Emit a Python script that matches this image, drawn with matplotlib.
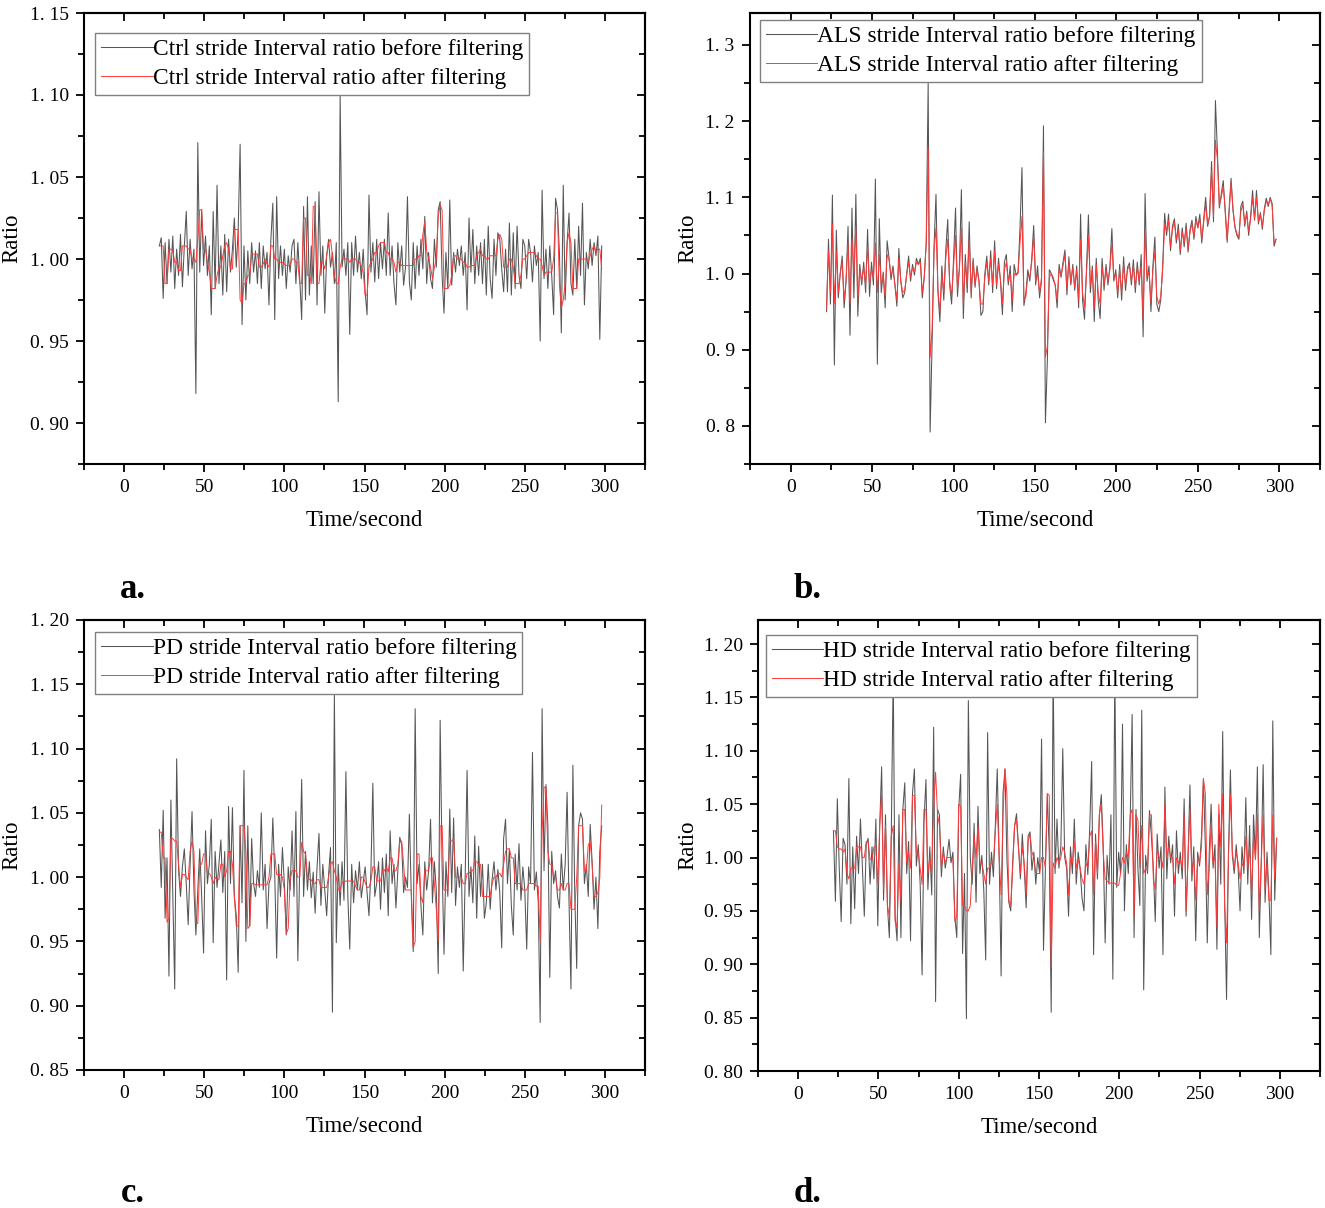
import matplotlib
matplotlib.use('Agg')
import matplotlib.pyplot as plt
from matplotlib.ticker import MultipleLocator, FuncFormatter
import numpy as np

plt.rcParams['font.family'] = ['Liberation Serif', 'DejaVu Serif']

# time span of the stride records (seconds)
T_START = 22.0
T_END = 298.0

# ---- a. Ctrl ----
ctrl_raw = [
    1.008, 1.013, 0.976, 1.010, 0.985, 1.012, 0.992, 1.014, 0.982, 1.006,
    0.990, 1.015, 0.983, 1.008, 1.029, 0.990, 1.012, 0.994, 1.006, 0.918,
    1.071, 0.992, 1.030, 0.996, 1.014, 0.990, 1.008, 0.966, 1.029, 0.982,
    1.045, 0.985, 1.008, 0.978, 1.015, 0.980, 1.012, 0.992, 1.006, 1.025,
    0.995, 1.018, 1.070, 0.960, 1.008, 0.975, 1.005, 0.985, 1.010, 0.992,
    1.005, 0.985, 1.010, 0.982, 1.008, 0.994, 1.004, 0.972, 1.012, 1.034,
    0.963, 1.038, 0.988, 1.008, 0.990, 1.006, 0.982, 1.002, 0.992, 1.008,
    1.012, 0.985, 1.010, 0.988, 0.963, 1.032, 0.975, 1.038, 0.978, 1.008,
    0.985, 1.035, 0.972, 1.041, 0.990, 1.008, 0.967, 1.002, 1.012, 0.995,
    1.004, 0.985, 1.010, 0.913, 1.100, 0.995, 1.006, 0.990, 1.010, 0.954,
    1.010, 0.990, 1.014, 0.992, 1.004, 0.988, 1.006, 0.980, 0.966, 1.039,
    0.992, 1.010, 0.986, 1.012, 0.988, 1.010, 0.994, 1.012, 0.990, 1.028,
    0.990, 1.008, 0.985, 0.972, 1.010, 0.992, 1.008, 0.984, 0.995, 1.038,
    0.986, 0.975, 1.010, 0.982, 1.008, 0.990, 1.012, 0.994, 1.026, 0.985,
    1.004, 0.988, 0.982, 1.012, 0.995, 1.030, 1.035, 0.990, 0.967, 1.004,
    0.982, 1.036, 0.984, 1.004, 0.992, 1.006, 0.996, 1.008, 0.990, 1.004,
    0.969, 1.025, 0.992, 1.018, 0.985, 1.008, 0.990, 1.010, 0.985, 1.012,
    0.978, 1.020, 0.988, 0.976, 1.012, 0.990, 1.016, 1.012, 0.994, 0.980,
    1.006, 0.980, 1.022, 0.978, 1.016, 0.982, 1.020, 0.990, 0.982, 1.012,
    1.008, 0.988, 1.012, 1.004, 0.986, 1.008, 0.996, 1.004, 0.950, 1.042,
    0.988, 1.006, 0.982, 1.008, 0.990, 0.966, 1.037, 1.030, 1.004, 0.955,
    1.045, 0.975, 1.010, 1.028, 0.985, 0.978, 1.012, 0.982, 1.020, 0.990,
    1.034, 0.972, 1.004, 0.994, 1.012, 0.996, 1.010, 1.002, 1.014, 0.951,
    1.008,
]
ctrl_flt = [
    1.008, 1.008, 1.008, 0.985, 0.985, 1.006, 1.006, 1.005, 0.998, 0.998,
    0.993, 0.993, 1.008, 1.008, 1.008, 1.006, 1.006, 1.000, 1.000, 0.998,
    1.012, 1.030, 1.030, 1.006, 1.006, 0.998, 0.992, 0.982, 0.982, 0.982,
    0.990, 0.995, 0.995, 1.002, 1.008, 1.010, 1.006, 0.994, 0.994, 1.018,
    1.018, 1.018, 0.975, 0.973, 0.985, 0.985, 0.990, 0.990, 1.003, 1.003,
    1.003, 1.003, 0.995, 0.995, 0.997, 1.000, 0.997, 0.995, 1.008, 1.008,
    1.000, 1.000, 0.998, 0.998, 0.998, 0.997, 0.996, 0.996, 0.996, 1.000,
    1.000, 0.998, 0.998, 0.985, 0.985, 1.025, 1.025, 0.990, 0.990, 0.985,
    1.032, 1.032, 0.985, 0.985, 0.998, 0.998, 0.994, 1.002, 1.010, 1.012,
    1.002, 0.990, 0.985, 0.985, 0.995, 1.000, 1.000, 1.000, 1.000, 0.998,
    1.000, 1.000, 1.000, 0.998, 0.998, 0.996, 0.992, 0.978, 0.978, 0.995,
    0.998, 1.000, 1.004, 1.004, 1.008, 1.010, 1.010, 1.010, 1.004, 1.004,
    1.000, 1.000, 0.998, 0.992, 0.998, 0.998, 0.996, 0.996, 0.996, 0.996,
    0.996, 0.996, 0.996, 1.000, 1.000, 1.002, 1.002, 1.015, 1.023, 1.005,
    1.000, 0.995, 0.988, 0.995, 1.000, 1.026, 1.033, 1.030, 0.982, 0.982,
    0.982, 0.984, 0.990, 1.002, 1.002, 1.000, 1.000, 1.000, 0.998, 0.998,
    0.995, 0.995, 0.996, 0.996, 0.996, 1.002, 1.004, 1.006, 1.002, 1.002,
    1.000, 1.000, 1.002, 1.002, 1.002, 1.002, 1.012, 1.015, 1.012, 0.995,
    0.995, 0.995, 1.000, 1.000, 0.995, 0.985, 0.985, 0.985, 0.990, 1.000,
    1.000, 1.002, 1.004, 1.004, 1.004, 1.004, 1.002, 1.000, 1.000, 0.996,
    0.990, 0.992, 0.992, 0.992, 0.992, 1.000, 1.028, 1.028, 0.985, 0.970,
    0.975, 0.985, 1.010, 1.016, 1.010, 0.982, 0.982, 0.982, 1.000, 1.000,
    1.000, 1.000, 1.000, 0.998, 1.002, 1.006, 1.008, 1.004, 1.006, 1.006,
    0.994,
]

# ---- b. ALS ----
als_raw = [
    0.950, 1.045, 0.960, 1.103, 0.880, 1.057, 0.968, 1.000, 1.023, 0.955,
    0.990, 1.062, 0.919, 1.086, 0.968, 1.104, 0.944, 1.012, 0.985, 1.015,
    0.975, 1.058, 0.970, 1.015, 0.985, 1.124, 0.881, 1.072, 0.975, 1.002,
    0.955, 1.043, 1.020, 0.992, 1.010, 0.985, 0.957, 1.033, 0.990, 0.968,
    0.975, 1.000, 1.023, 0.990, 1.012, 0.998, 1.020, 1.012, 1.020, 0.968,
    0.995, 1.040, 1.250, 0.792, 0.907, 1.035, 1.104, 0.975, 0.937, 1.010,
    0.965, 1.030, 1.071, 0.985, 0.960, 1.020, 1.086, 0.970, 1.010, 1.110,
    0.941, 1.025, 0.975, 1.068, 0.968, 1.020, 0.982, 1.010, 0.990, 0.945,
    0.950, 1.000, 1.023, 0.985, 1.030, 0.975, 1.043, 0.980, 1.020, 0.990,
    0.946, 1.015, 1.025, 0.985, 1.010, 0.950, 1.012, 0.998, 1.002, 1.060,
    1.139, 0.958, 0.975, 1.005, 0.990, 1.020, 1.063, 0.985, 1.010, 0.968,
    0.990, 1.194, 0.804, 0.887, 1.005, 1.000, 0.992, 0.985, 0.955, 1.012,
    0.995, 1.015, 1.031, 0.972, 1.022, 0.985, 1.012, 0.978, 1.010, 0.955,
    1.078, 0.965, 0.940, 1.005, 1.077, 0.975, 1.010, 0.937, 1.020, 0.965,
    0.941, 1.020, 0.978, 1.012, 0.985, 1.010, 1.059, 0.990, 1.005, 0.968,
    1.012, 0.965, 1.022, 0.978, 1.008, 1.014, 0.985, 1.018, 0.975, 1.015,
    0.985, 1.025, 0.917, 1.105, 0.990, 1.010, 0.950, 1.010, 1.048, 0.960,
    0.950, 0.965, 1.010, 1.079, 1.050, 1.078, 1.030, 1.062, 1.072, 1.040,
    1.065, 1.025, 1.060, 1.035, 1.066, 1.028, 1.058, 1.070, 1.045, 1.075,
    1.060, 1.078, 1.040, 1.072, 1.100, 1.062, 1.075, 1.147, 1.068, 1.227,
    1.160, 1.086, 1.105, 1.122, 1.080, 1.041, 1.085, 1.125, 1.082, 1.060,
    1.050, 1.045, 1.088, 1.095, 1.062, 1.082, 1.050, 1.075, 1.109, 1.070,
    1.109, 1.065, 1.080, 1.058, 1.085, 1.099, 1.088, 1.100, 1.092, 1.036,
    1.045,
]
als_flt = [
    0.955, 1.030, 0.975, 1.065, 0.960, 1.030, 0.975, 1.000, 1.015, 0.965,
    0.992, 1.040, 0.960, 1.045, 1.000, 1.060, 0.965, 1.005, 0.990, 1.008,
    0.985, 1.035, 0.985, 1.005, 0.995, 1.040, 0.975, 1.025, 0.985, 0.998,
    0.970, 1.025, 1.018, 0.998, 1.005, 0.985, 0.965, 1.020, 0.990, 0.975,
    0.978, 0.998, 1.015, 0.995, 1.008, 1.002, 1.015, 1.012, 1.015, 0.975,
    0.995, 1.040, 1.165, 0.890, 0.925, 1.030, 1.060, 0.980, 0.950, 1.000,
    0.975, 1.020, 1.045, 0.990, 0.970, 1.010, 1.050, 0.980, 1.005, 1.060,
    0.960, 1.015, 0.985, 1.045, 0.975, 1.015, 0.985, 1.005, 0.990, 0.960,
    0.960, 0.995, 1.015, 0.990, 1.020, 0.985, 1.030, 0.985, 1.012, 0.992,
    0.960, 1.005, 1.015, 0.990, 1.000, 0.965, 1.000, 0.998, 1.000, 1.040,
    1.075, 0.965, 0.970, 0.998, 0.995, 1.015, 1.050, 0.990, 1.000, 0.975,
    0.995, 1.160, 0.890, 0.905, 0.995, 1.000, 0.995, 0.985, 0.965, 1.005,
    0.998, 1.010, 1.025, 0.980, 1.015, 0.988, 1.008, 0.982, 1.005, 0.965,
    1.045, 0.975, 0.955, 1.000, 1.050, 0.985, 1.005, 0.955, 1.012, 0.975,
    0.960, 1.010, 0.985, 1.005, 0.990, 1.005, 1.040, 0.992, 1.000, 0.975,
    1.005, 0.975, 1.012, 0.985, 1.005, 1.010, 0.990, 1.010, 0.982, 1.008,
    0.990, 1.010, 0.940, 1.055, 0.995, 1.002, 0.962, 1.005, 1.030, 0.970,
    0.960, 0.970, 1.005, 1.065, 1.055, 1.070, 1.035, 1.058, 1.068, 1.045,
    1.058, 1.030, 1.055, 1.040, 1.060, 1.032, 1.055, 1.065, 1.048, 1.070,
    1.060, 1.072, 1.045, 1.068, 1.090, 1.065, 1.075, 1.135, 1.075, 1.175,
    1.150, 1.090, 1.100, 1.115, 1.085, 1.045, 1.080, 1.120, 1.085, 1.062,
    1.052, 1.048, 1.082, 1.090, 1.065, 1.078, 1.055, 1.072, 1.100, 1.072,
    1.100, 1.068, 1.078, 1.062, 1.082, 1.095, 1.090, 1.098, 1.090, 1.040,
    1.045,
]

# ---- c. PD ----
pd_raw = [
    1.037, 0.992, 1.052, 0.968, 1.015, 0.923, 1.060, 0.985, 0.913, 1.092,
    1.005, 0.985, 1.008, 1.022, 0.995, 0.963, 1.010, 1.051, 0.990, 0.955,
    0.990, 1.022, 0.985, 0.941, 1.036, 0.995, 1.010, 1.045, 0.949, 1.020,
    0.992, 1.010, 1.029, 0.988, 1.020, 0.920, 1.055, 0.995, 1.054, 0.985,
    0.970, 0.926, 1.040, 0.980, 1.083, 0.950, 1.040, 0.962, 1.030, 0.995,
    0.985, 1.005, 0.992, 1.050, 0.990, 1.010, 0.960, 0.995, 1.000, 1.046,
    1.002, 0.937, 1.010, 0.985, 1.023, 0.995, 0.955, 1.008, 0.990, 1.036,
    0.985, 1.051, 0.935, 1.008, 1.076, 0.985, 1.020, 0.990, 1.012, 0.984,
    1.004, 0.972, 1.008, 1.034, 0.978, 1.010, 0.990, 0.970, 1.002, 1.023,
    0.895, 1.143, 0.949, 1.010, 0.978, 1.012, 0.982, 1.082, 0.985, 0.944,
    1.010, 0.980, 1.005, 0.990, 1.012, 0.984, 0.996, 1.008, 0.988, 0.970,
    1.005, 1.073, 0.985, 0.995, 1.012, 0.975, 1.015, 0.988, 1.018, 0.970,
    1.036, 0.995, 1.010, 0.976, 1.005, 1.031, 1.025, 0.988, 1.000, 0.992,
    1.049, 0.985, 0.942, 1.131, 0.995, 1.010, 0.978, 0.955, 1.012, 0.990,
    1.005, 1.045, 0.980, 1.012, 0.990, 0.925, 1.122, 1.010, 0.940, 1.012,
    0.985, 1.053, 0.988, 1.046, 0.978, 1.008, 0.992, 1.010, 0.927, 1.000,
    1.083, 0.985, 1.008, 0.980, 1.032, 0.968, 1.024, 0.985, 1.010, 0.968,
    0.980, 1.010, 0.975, 0.998, 1.012, 0.990, 1.006, 0.988, 0.945, 1.030,
    1.045, 0.995, 1.022, 0.978, 0.955, 1.018, 0.990, 1.026, 0.982, 1.008,
    0.990, 0.944, 1.008, 0.995, 1.097, 0.990, 1.004, 0.980, 0.887, 1.131,
    1.005, 1.072, 1.040, 0.922, 1.020, 0.995, 1.005, 0.985, 0.976, 1.018,
    0.990, 1.010, 1.066, 0.980, 0.913, 1.087, 0.985, 0.929, 1.040, 1.050,
    1.045, 0.995, 1.010, 0.985, 1.041, 1.012, 0.975, 1.000, 0.960, 1.020,
    1.040,
]
pd_flt = [
    1.035, 1.035, 1.015, 1.015, 0.965, 0.968, 1.030, 1.030, 1.028, 1.028,
    1.010, 0.992, 1.002, 1.002, 1.000, 0.998, 1.020, 1.028, 1.020, 0.964,
    0.964, 1.010, 1.010, 1.018, 1.018, 1.003, 1.003, 1.000, 0.995, 1.000,
    0.998, 0.998, 1.010, 1.010, 1.000, 1.005, 1.020, 1.020, 1.010, 0.985,
    0.962, 0.962, 1.040, 1.040, 1.040, 1.020, 0.960, 0.962, 0.995, 0.995,
    0.994, 0.994, 0.994, 0.994, 0.994, 0.994, 0.994, 1.000, 1.018, 1.018,
    1.018, 1.002, 1.002, 1.002, 1.000, 0.990, 0.956, 0.960, 0.998, 1.005,
    1.005, 1.005, 1.000, 1.000, 1.027, 1.020, 1.018, 1.000, 0.998, 0.998,
    0.995, 0.995, 0.998, 0.998, 0.992, 0.992, 0.992, 0.992, 1.000, 1.010,
    1.012, 1.005, 1.000, 0.990, 0.990, 0.996, 0.996, 0.997, 0.997, 0.997,
    0.997, 0.997, 0.993, 0.990, 0.990, 1.000, 1.000, 0.996, 0.992, 0.992,
    0.997, 1.008, 1.008, 0.997, 0.997, 0.997, 1.005, 1.005, 1.008, 1.004,
    1.015, 1.015, 1.005, 1.005, 1.010, 1.028, 1.028, 1.010, 0.990, 0.990,
    0.990, 0.990, 0.945, 0.950, 1.018, 1.018, 0.985, 0.980, 1.005, 1.005,
    1.005, 1.015, 1.015, 0.995, 0.975, 0.950, 1.040, 1.040, 0.990, 0.990,
    0.990, 1.028, 1.028, 1.030, 1.000, 1.000, 1.000, 1.000, 0.995, 0.995,
    1.003, 1.003, 1.005, 1.005, 1.012, 1.012, 1.010, 1.010, 0.985, 0.985,
    0.985, 0.985, 0.985, 0.995, 1.000, 1.000, 1.003, 1.003, 1.000, 1.010,
    1.020, 1.022, 1.022, 1.015, 1.015, 0.995, 0.995, 0.995, 0.995, 0.990,
    0.990, 0.990, 0.995, 0.995, 0.995, 0.995, 0.993, 0.993, 0.950, 1.035,
    1.070, 1.070, 1.020, 1.010, 1.010, 1.000, 1.000, 0.990, 0.990, 0.995,
    0.990, 0.990, 0.995, 0.995, 0.975, 0.975, 0.975, 1.000, 1.040, 1.040,
    1.040, 1.005, 1.005, 1.025, 1.028, 1.010, 0.985, 0.985, 0.988, 1.000,
    1.056,
]

# ---- d. HD ----
hd_raw = [
    1.025, 0.959, 1.055, 0.990, 0.940, 1.018, 1.012, 0.975, 1.074, 0.938,
    1.010, 0.952, 1.020, 0.985, 1.036, 0.992, 0.945, 1.012, 1.018, 0.975,
    1.010, 0.980, 1.036, 0.936, 1.030, 1.085, 0.960, 1.040, 0.955, 0.925,
    1.020, 1.175, 0.945, 0.922, 1.040, 0.925, 1.045, 1.070, 0.985, 1.015,
    0.922, 1.060, 1.083, 0.992, 1.012, 0.975, 0.890, 1.035, 1.073, 0.970,
    1.010, 0.965, 1.122, 0.865, 1.045, 1.040, 0.982, 1.010, 0.990, 1.002,
    1.017, 0.995, 1.005, 0.944, 0.925, 1.045, 1.078, 0.910, 0.985, 0.849,
    1.147, 1.000, 0.975, 1.032, 0.958, 1.048, 0.985, 1.002, 0.970, 0.904,
    1.117, 0.975, 1.005, 0.982, 1.030, 1.083, 1.000, 0.889, 1.060, 1.083,
    1.000, 0.958, 0.950, 0.995, 1.030, 1.041, 1.010, 0.980, 1.022, 0.990,
    0.953, 1.020, 1.024, 0.988, 1.005, 0.975, 1.000, 0.985, 1.111, 0.913,
    0.990, 1.059, 1.005, 0.855, 1.180, 0.985, 1.036, 0.990, 1.010, 1.102,
    1.000, 0.990, 0.945, 1.010, 0.985, 1.036, 0.975, 1.005, 0.990, 0.962,
    0.950, 1.012, 0.984, 1.028, 1.090, 0.909, 1.022, 0.980, 1.040, 1.059,
    1.010, 0.920, 1.002, 0.975, 1.040, 0.886, 1.180, 0.972, 1.005, 0.985,
    1.125, 0.950, 1.012, 0.985, 1.035, 1.134, 0.925, 1.045, 0.990, 0.955,
    1.138, 0.876, 1.002, 0.985, 1.044, 1.020, 0.990, 0.940, 1.022, 0.990,
    1.010, 0.909, 1.066, 0.980, 1.020, 0.995, 1.012, 0.945, 1.025, 0.985,
    1.005, 0.980, 1.055, 0.945, 1.000, 1.068, 0.978, 1.010, 0.922, 1.005,
    0.992, 1.020, 1.074, 1.010, 0.920, 1.004, 1.050, 0.990, 1.012, 0.914,
    1.040, 0.975, 1.118, 0.960, 0.867, 1.005, 1.082, 1.002, 0.985, 1.012,
    0.990, 0.950, 1.010, 0.985, 1.056, 0.975, 1.030, 0.942, 1.040, 1.000,
    1.085, 0.925, 0.995, 1.087, 0.958, 1.005, 0.965, 0.909, 1.128, 0.960,
    1.018,
]
hd_flt = [
    1.025, 1.025, 1.010, 1.008, 1.008, 1.005, 1.008, 0.985, 0.980, 0.990,
    0.990, 0.990, 1.010, 1.010, 1.010, 1.000, 1.000, 1.015, 1.015, 0.998,
    0.998, 1.010, 1.010, 0.975, 1.030, 1.060, 0.970, 1.030, 0.955, 0.945,
    1.020, 1.030, 0.940, 0.935, 0.995, 0.960, 1.045, 1.045, 0.995, 1.005,
    0.990, 1.058, 1.058, 1.005, 1.005, 0.990, 0.975, 1.045, 1.045, 0.985,
    1.000, 0.985, 1.048, 1.080, 1.040, 1.030, 0.990, 1.005, 0.995, 1.000,
    1.000, 1.000, 0.998, 0.940, 0.945, 1.050, 1.048, 0.955, 0.955, 0.950,
    0.950, 0.955, 0.990, 1.020, 1.000, 1.030, 0.995, 0.995, 0.985, 0.975,
    0.990, 0.990, 0.995, 0.995, 1.025, 1.050, 1.000, 0.965, 1.040, 1.083,
    1.060, 0.960, 0.955, 0.990, 1.030, 1.035, 1.010, 0.985, 1.010, 0.995,
    0.965, 1.015, 1.022, 1.005, 1.000, 0.985, 0.985, 0.985, 1.000, 1.000,
    0.990, 1.060, 1.058, 0.897, 0.995, 0.990, 1.000, 0.995, 1.000, 1.010,
    1.005, 0.995, 0.965, 1.000, 0.995, 1.015, 0.990, 0.998, 0.990, 0.980,
    0.975, 0.995, 0.990, 1.020, 1.025, 0.965, 1.015, 0.985, 1.040, 1.050,
    1.005, 0.980, 0.978, 0.976, 0.976, 0.976, 0.976, 0.974, 0.974, 0.985,
    1.000, 0.995, 1.005, 1.000, 1.040, 1.045, 0.945, 1.040, 1.035, 0.990,
    1.030, 0.985, 0.990, 0.988, 1.040, 1.040, 0.980, 0.970, 1.008, 1.000,
    1.000, 0.990, 1.050, 1.000, 1.010, 1.000, 1.000, 0.975, 1.000, 0.995,
    0.998, 0.990, 1.040, 0.950, 1.000, 1.045, 0.985, 1.000, 0.960, 1.000,
    0.995, 1.010, 1.074, 1.060, 0.965, 0.990, 1.030, 0.995, 1.000, 0.935,
    1.050, 1.010, 1.060, 0.955, 0.920, 1.000, 1.060, 1.005, 0.990, 1.005,
    0.995, 0.980, 0.995, 0.990, 1.020, 0.990, 1.010, 0.965, 1.020, 0.998,
    1.040, 0.950, 0.995, 1.040, 0.970, 0.995, 0.960, 0.960, 1.040, 0.980,
    1.018,
]

groups = ['Ctrl', 'ALS', 'PD', 'HD']
letters = ['a.', 'b.', 'c.', 'd.']
raws = [ctrl_raw, als_raw, pd_raw, hd_raw]
flts = [ctrl_flt, als_flt, pd_flt, hd_flt]
ylims = [(0.875, 1.15), (0.75, 1.342), (0.85, 1.20), (0.80, 1.2225)]
ymajor = [0.05, 0.1, 0.05, 0.05]
ydigits = [2, 1, 2, 2]

# layout in pixels (left, top, right, bottom) of a 1325x1208 canvas
W, H = 1325, 1208
boxes = [(84, 13, 645, 464), (750, 13, 1320, 464),
         (84, 620, 645, 1070), (758, 620, 1320, 1071)]
legend_anchor = [(0.0196, 0.9557), (0.0175, 0.9845), (0.0196, 0.9733), (0.0142, 0.9667)]
letter_pos = [(133, 589), (808, 589), (133, 1194), (808, 1194)]

fig = plt.figure(figsize=(W / 100, H / 100), dpi=100)

for i in range(4):
    l, t, r, b = boxes[i]
    ax = fig.add_axes([l / W, 1 - b / H, (r - l) / W, (b - t) / H])
    raw = np.array(raws[i])
    flt = np.array(flts[i])
    t_raw = np.linspace(T_START, T_END, len(raw))
    t_flt = np.linspace(T_START, T_END, len(flt))
    ax.plot(t_raw, raw, color='#555555', lw=0.75,
            label=groups[i] + ' stride Interval ratio before filtering')
    ax.plot(t_flt, flt, color='#ff3a3a', lw=0.7,
            label=groups[i] + ' stride Interval ratio after filtering')

    ax.set_xlim(-25, 325)
    ax.set_ylim(*ylims[i])
    ax.xaxis.set_major_locator(MultipleLocator(50))
    ax.xaxis.set_minor_locator(MultipleLocator(25))
    ax.yaxis.set_major_locator(MultipleLocator(ymajor[i]))
    ax.yaxis.set_minor_locator(MultipleLocator(ymajor[i] / 2))
    d = ydigits[i]
    ax.yaxis.set_major_formatter(FuncFormatter(lambda v, p, d=d: f'{v:.{d}f}'.replace('.', '. ')))
    ax.tick_params(which='both', direction='out', width=1.3, labelsize=14, pad=5)
    ax.tick_params(which='major', length=6)
    ax.tick_params(which='minor', length=4)
    for s in ax.spines.values():
        s.set_linewidth(1.5)

    # mirrored inward ticks on top and right
    top = ax.secondary_xaxis('top')
    top.xaxis.set_major_locator(MultipleLocator(50))
    top.xaxis.set_minor_locator(MultipleLocator(25))
    top.tick_params(which='both', direction='in', width=1.3, labeltop=False)
    top.tick_params(which='major', length=6)
    top.tick_params(which='minor', length=4)
    top.spines['top'].set_linewidth(1.5)
    right = ax.secondary_yaxis('right')
    right.yaxis.set_major_locator(MultipleLocator(ymajor[i]))
    right.yaxis.set_minor_locator(MultipleLocator(ymajor[i] / 2))
    right.tick_params(which='both', direction='in', width=1.3, labelright=False)
    right.tick_params(which='major', length=6)
    right.tick_params(which='minor', length=4)
    right.spines['right'].set_linewidth(1.5)

    ax.set_xlabel('Time/second', fontsize=16.5)
    ax.set_ylabel('Ratio', fontsize=16.5)
    ax.xaxis.set_label_coords(0.5, -0.102)
    ylx = (22 - l) / (r - l) if i % 2 == 0 else (698 - l) / (r - l)
    ax.yaxis.set_label_coords(ylx, 0.5)

    leg = ax.legend(loc='upper left', bbox_to_anchor=legend_anchor[i], borderaxespad=0,
                    fontsize=16.9, handlelength=2.2, handletextpad=0.0, labelspacing=0.3,
                    borderpad=0.25, fancybox=False, framealpha=1, edgecolor='#808080')
    leg.get_frame().set_linewidth(1.0)

    fig.text(letter_pos[i][0] / W, 1 - letter_pos[i][1] / H, letters[i],
             ha='center', va='center', fontsize=25, fontweight='bold')

fig.savefig('out.png', dpi=100)
